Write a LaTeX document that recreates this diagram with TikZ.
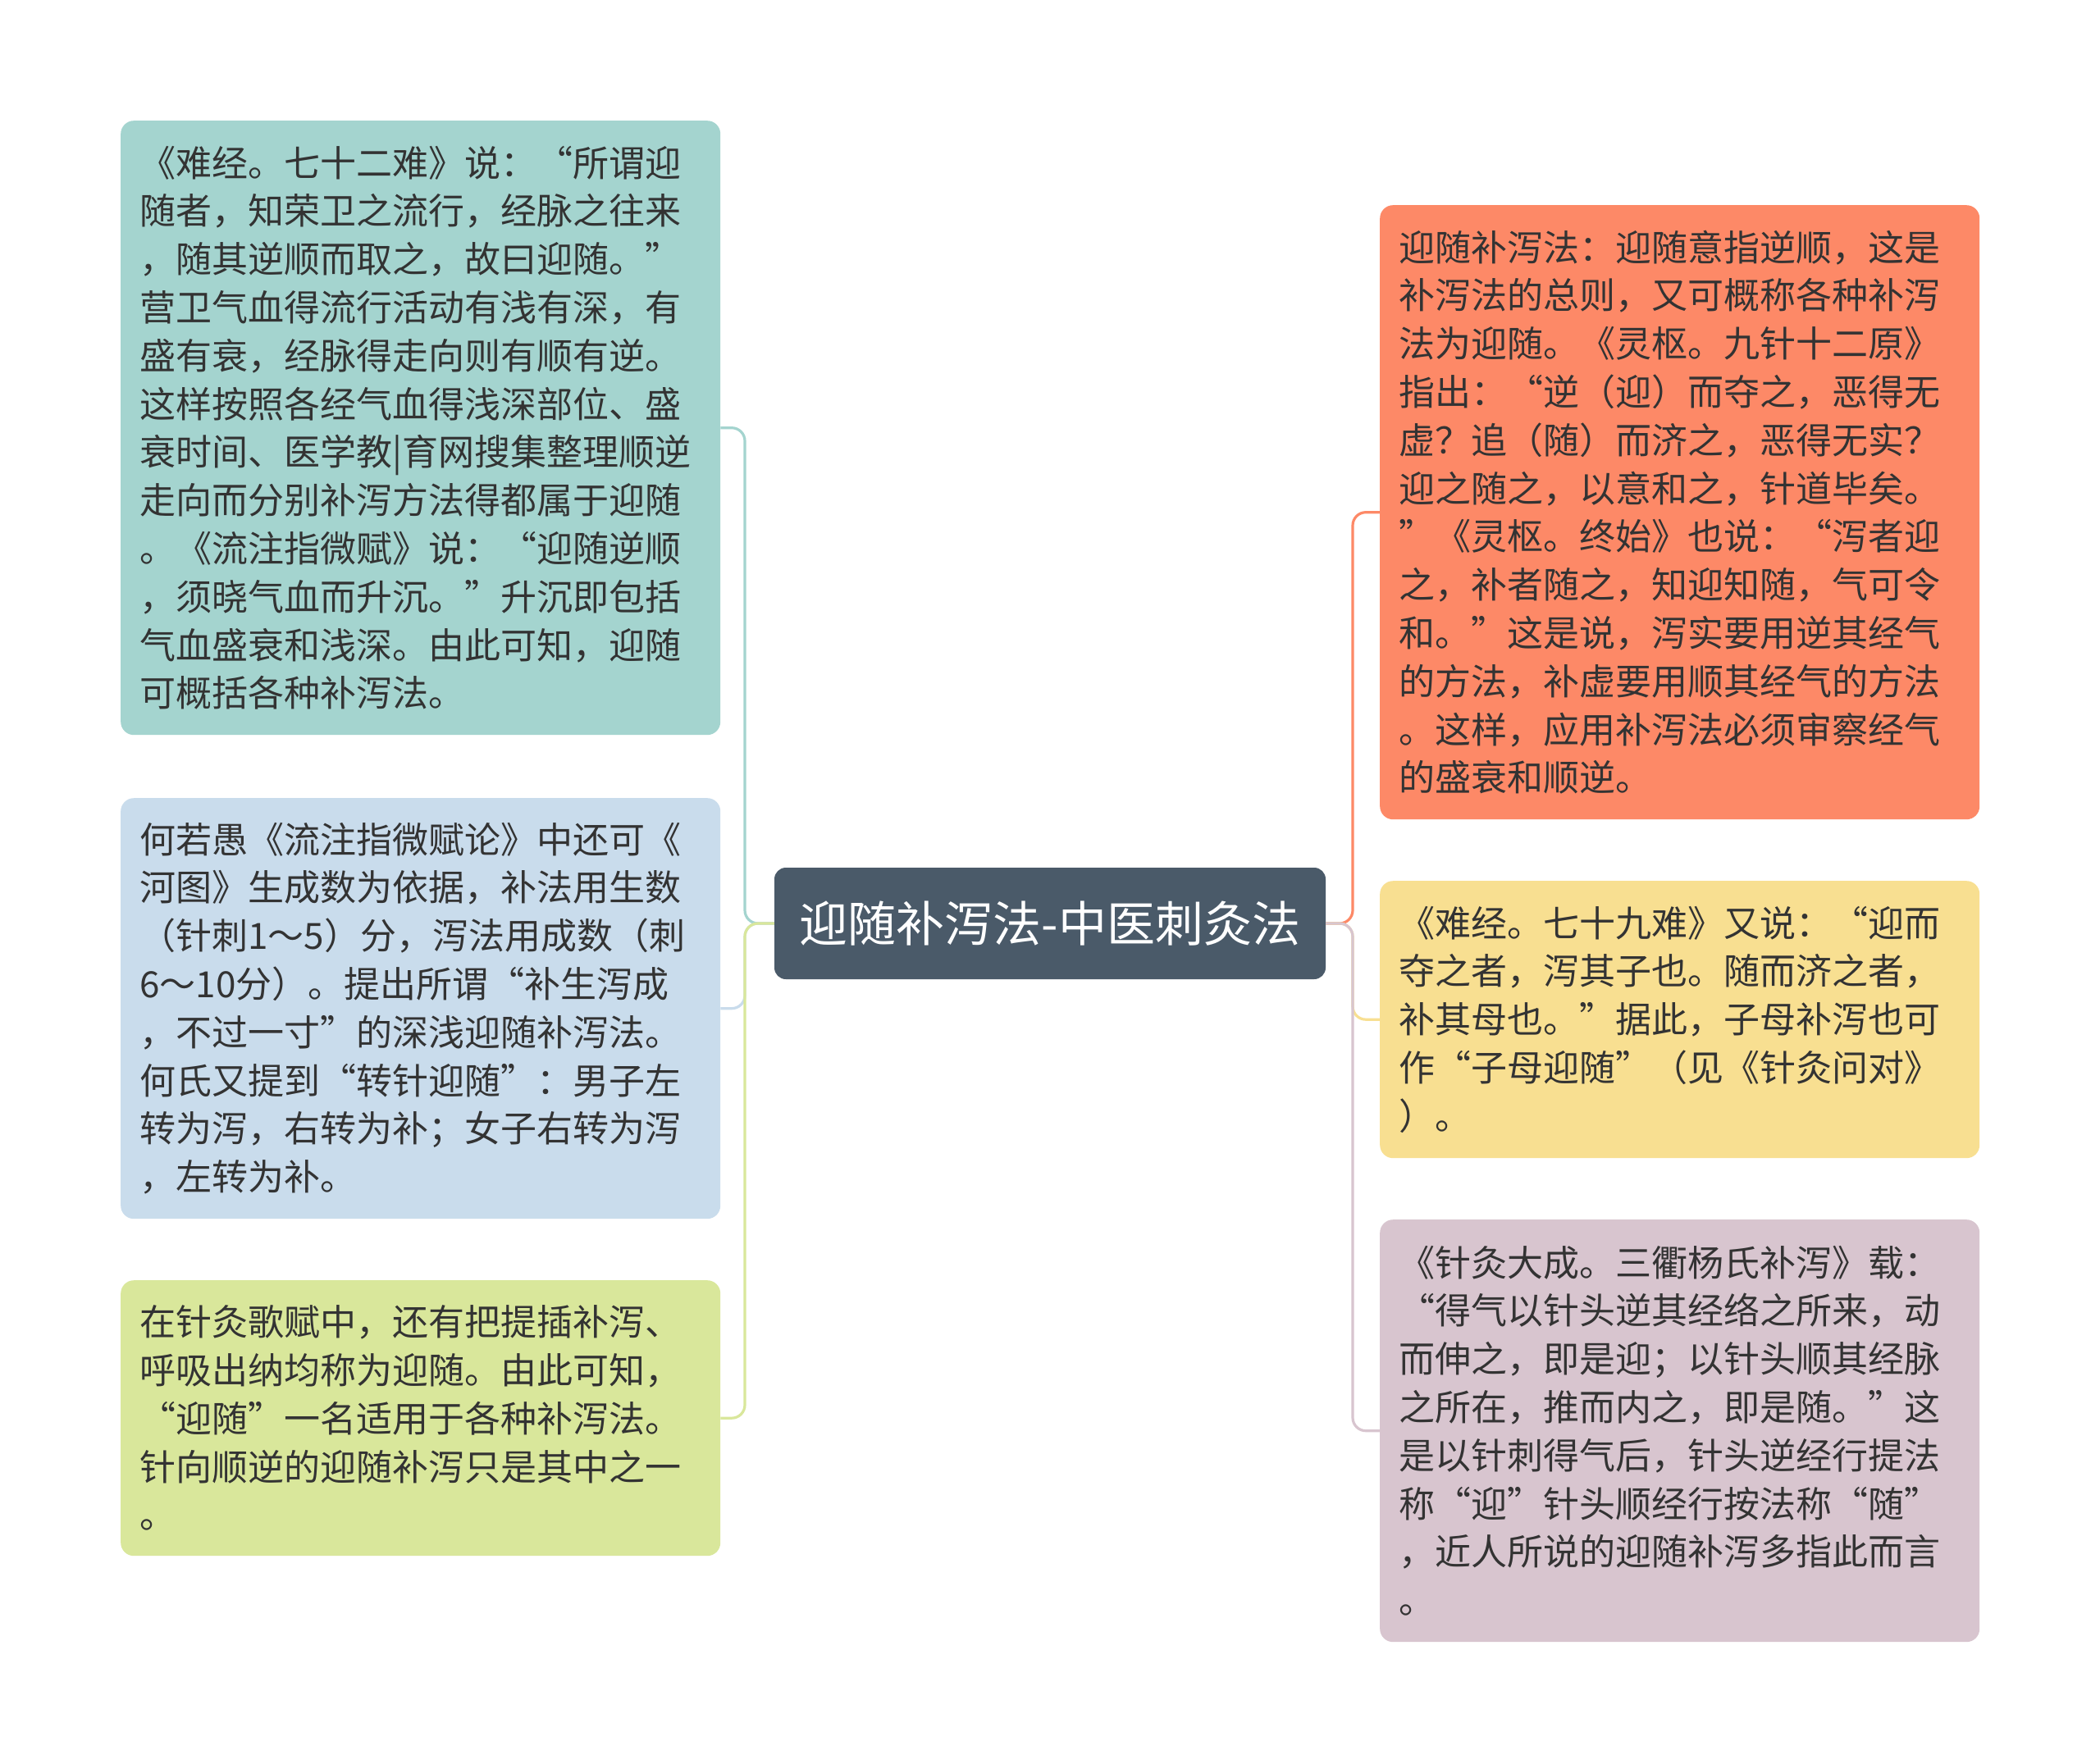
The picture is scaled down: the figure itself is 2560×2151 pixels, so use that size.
\documentclass[tikz,border=0pt]{standalone}
\usepackage{fontspec}
\setmainfont{Noto Sans CJK SC}
\definecolor{txt}{HTML}{333333}
\definecolor{cteal}{HTML}{A4D4CF}
\definecolor{cblue}{HTML}{C9DCEC}
\definecolor{cgreen}{HTML}{D9E79B}
\definecolor{corange}{HTML}{FD8967}
\definecolor{cyellow}{HTML}{F8DF91}
\definecolor{cpink}{HTML}{D8C5CF}
\definecolor{ccenter}{HTML}{4A5A69}
\tikzset{
  box/.style={rounded corners=16pt, anchor=north west, inner xsep=23pt, inner ysep=0pt,
    text width=685pt, align=left, font=\fontsize{44}{58.8}\selectfont, text=txt},
  link/.style={line width=3.2pt, rounded corners=16pt}
}
\begin{document}
\begin{tikzpicture}[x=1pt,y=-1pt]
\useasboundingbox[fill=white] (0,0) rectangle (2560,2151);

\node[fill=ccenter, rounded corners=14pt, minimum width=672pt, minimum height=136pt,
  text=white, font=\fontsize{59}{64}\selectfont, inner sep=0pt] (c) at (1280,1126) {迎随补泻法-中医刺灸法};

\node[box, fill=cteal, minimum height=749pt] (L1) at (147,147) {%
《难经。七十二难》说：“所谓迎\\
随者，知荣卫之流行，经脉之往来\\
，随其逆顺而取之，故曰迎随。”\\
营卫气血得流行活动有浅有深，有\\
盛有衰，经脉得走向则有顺有逆。\\
这样按照各经气血得浅深部位、盛\\
衰时间、医学教|育网搜集整理顺逆\\
走向而分别补泻方法得都属于迎随\\
。《流注指微赋》说：“迎随逆顺\\
，须晓气血而升沉。”升沉即包括\\
气血盛衰和浅深。由此可知，迎随\\
可概括各种补泻法。};

\node[box, fill=cblue, minimum height=513pt] (L2) at (147,973) {%
何若愚《流注指微赋论》中还可《\\
河图》生成数为依据，补法用生数\\
（针刺1～5）分，泻法用成数（刺\\
6～10分）。提出所谓“补生泻成\\
，不过一寸”的深浅迎随补泻法。\\
何氏又提到“转针迎随”：男子左\\
转为泻，右转为补；女子右转为泻\\
，左转为补。};

\node[box, fill=cgreen, minimum height=336pt] (L3) at (147,1561) {%
在针灸歌赋中，还有把提插补泻、\\
呼吸出纳均称为迎随。由此可知，\\
“迎随”一名适用于各种补泻法。\\
针向顺逆的迎随补泻只是其中之一\\
。};

\node[box, fill=corange, minimum height=749pt] (R1) at (1682,250) {%
迎随补泻法：迎随意指逆顺，这是\\
补泻法的总则，又可概称各种补泻\\
法为迎随。《灵枢。九针十二原》\\
指出：“逆（迎）而夺之，恶得无\\
虚？追（随）而济之，恶得无实？\\
迎之随之，以意和之，针道毕矣。\\
”《灵枢。终始》也说：“泻者迎\\
之，补者随之，知迎知随，气可令\\
和。”这是说，泻实要用逆其经气\\
的方法，补虚要用顺其经气的方法\\
。这样，应用补泻法必须审察经气\\
的盛衰和顺逆。};

\node[box, fill=cyellow, minimum height=338pt] (R2) at (1682,1074) {%
《难经。七十九难》又说：“迎而\\
夺之者，泻其子也。随而济之者，\\
补其母也。”据此，子母补泻也可\\
作“子母迎随”（见《针灸问对》\\
）。};

\node[box, fill=cpink, minimum height=515pt] (R3) at (1682,1487) {%
《针灸大成。三衢杨氏补泻》载：\\
“得气以针头逆其经络之所来，动\\
而伸之，即是迎；以针头顺其经脉\\
之所在，推而内之，即是随。”这\\
是以针刺得气后，针头逆经行提法\\
称“迎”针头顺经行按法称“随”\\
，近人所说的迎随补泻多指此而言\\
。};

\coordinate (jl) at (908,1126);
\coordinate (jr) at (1649,1126);
\draw[link, draw=cteal]  (c.west) -- (jl) |- (L1.east);
\draw[link, draw=cblue]  (c.west) -- (jl) |- (L2.east);
\draw[link, draw=cgreen] (c.west) -- (jl) |- (L3.east);
\draw[link, draw=corange] (c.east) -- (jr) |- (R1.west);
\draw[link, draw=cyellow] (c.east) -- (jr) |- (R2.west);
\draw[link, draw=cpink]   (c.east) -- (jr) |- (R3.west);
\end{tikzpicture}
\end{document}
